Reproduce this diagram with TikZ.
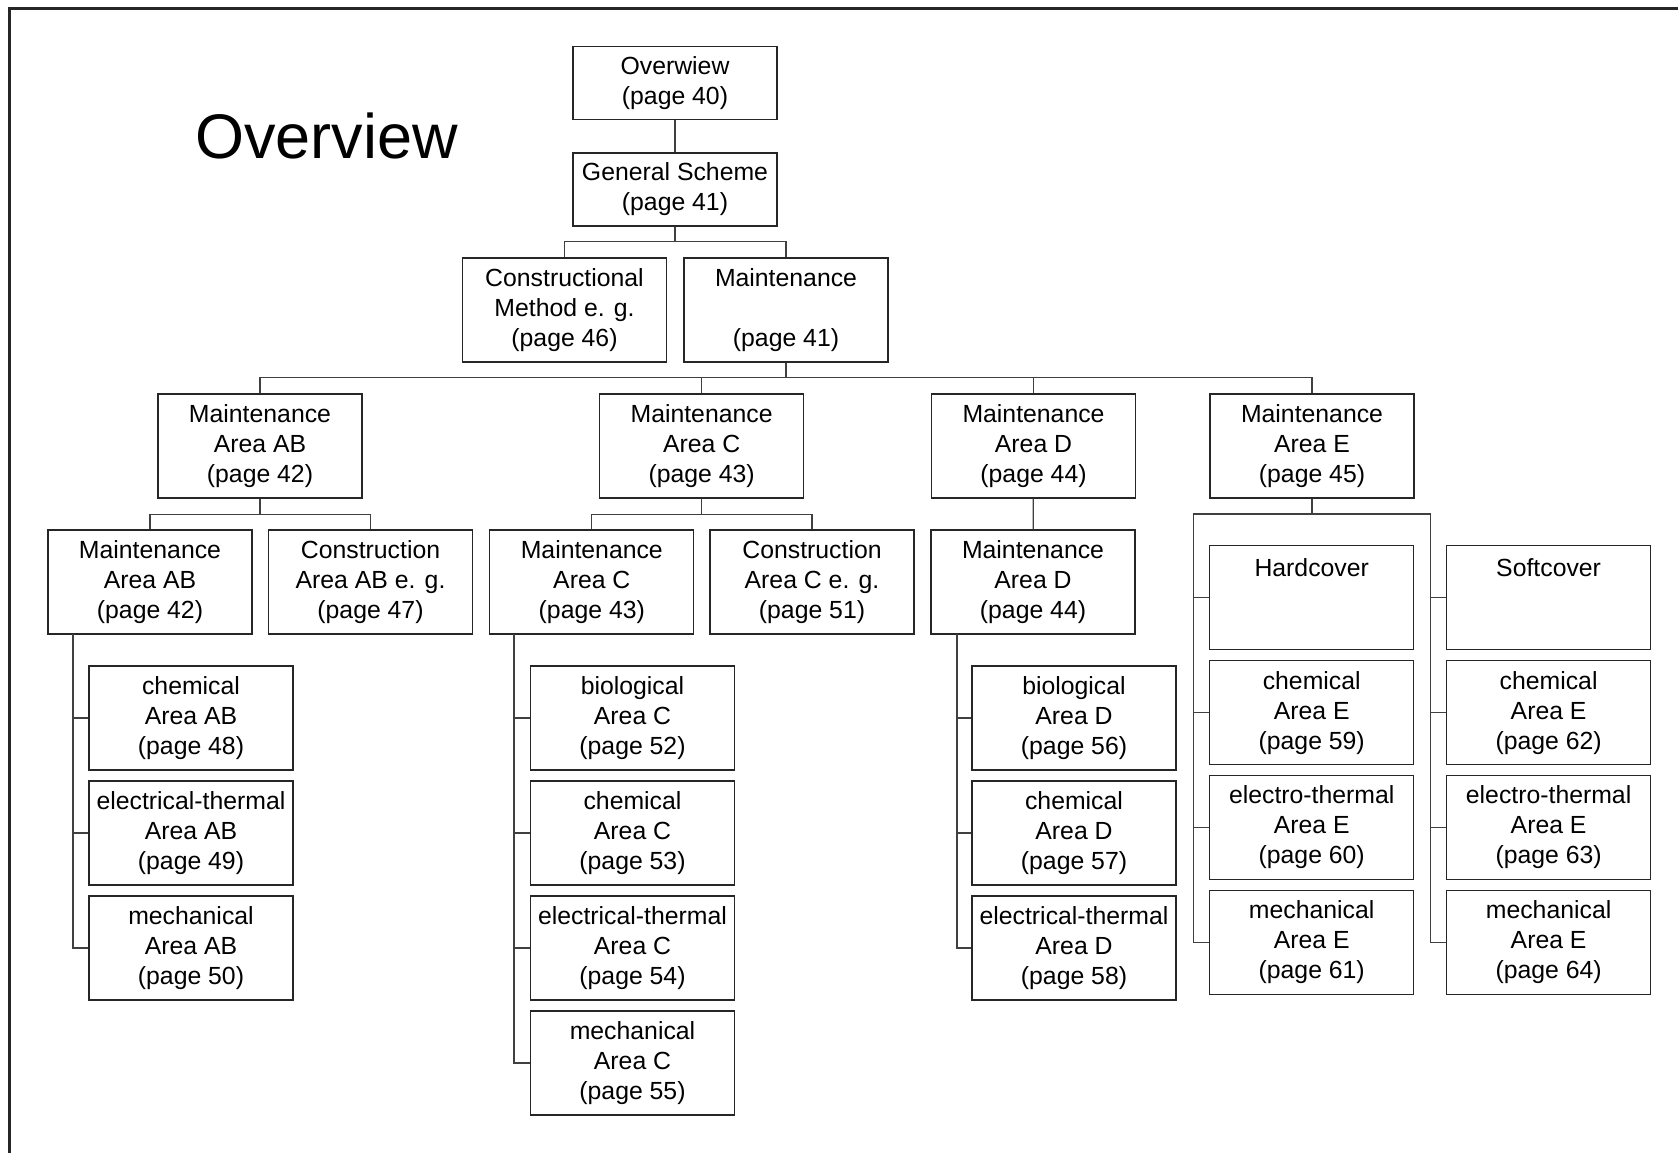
\documentclass[tikz,border=0pt]{standalone}
\usepackage{fontspec}
\setmainfont{Liberation Sans}
\begin{document}
\begin{tikzpicture}[x=1pt,y=-1pt,
  box/.style={draw=black!85, line width=1.2pt, minimum width=204pt,
    minimum height=104pt, inner sep=0pt, align=center,
    font=\fontsize{24.8}{30}\selectfont},
  shortbox/.style={box, minimum height=73pt},
  link/.style={draw=black!75, line width=1.2pt},
  frameline/.style={draw=black!85, line width=2.5pt}]

\useasboundingbox[fill=white] (0,0) rectangle (1678,1153);

% page frame (open to the right and bottom)
\draw[frameline] (9.5,1153) -- (9.5,8.5) -- (1678,8.5);

% title
\node[anchor=base west, inner sep=0pt, font=\fontsize{63}{70}\selectfont] (title) at (195,158) {Overview};

% top of the tree
\node[shortbox] (ov) at (675,83) {Overwiew\\(page 40)};
\node[shortbox] (gs) at (675,189.5) {General Scheme\\(page 41)};
\node[box] (cm) at (564.5,310) {Constructional\\Method e. g.\\(page 46)};
\node[box] (mt) at (786,310) {Maintenance\\\mbox{}\\(page 41)};

% maintenance areas
\node[box] (mab) at (260,446) {Maintenance\\Area AB\\(page 42)};
\node[box] (mc) at (701.6,446) {Maintenance\\Area C\\(page 43)};
\node[box] (md) at (1033.5,446) {Maintenance\\Area D\\(page 44)};
\node[box] (me) at (1312,446) {Maintenance\\Area E\\(page 45)};

% second level of the areas
\node[box] (mabb) at (150,582) {Maintenance\\Area AB\\(page 42)};
\node[box] (cab) at (370.5,582) {Construction\\Area AB e. g.\\(page 47)};
\node[box] (mcc) at (591.8,582) {Maintenance\\Area C\\(page 43)};
\node[box] (cc) at (812,582) {Construction\\Area C e. g.\\(page 51)};
\node[box] (mdd) at (1033,582) {Maintenance\\Area D\\(page 44)};

% area AB list
\node[box] (chab) at (191,718) {chemical\\Area AB\\(page 48)};
\node[box] (elab) at (191,833) {electrical-thermal\\Area AB\\(page 49)};
\node[box] (meab) at (191,948) {mechanical\\Area AB\\(page 50)};

% area C list
\node[box] (bic) at (632.5,718) {biological\\Area C\\(page 52)};
\node[box] (chc) at (632.5,833) {chemical\\Area C\\(page 53)};
\node[box] (elc) at (632.5,948) {electrical-thermal\\Area C\\(page 54)};
\node[box] (mec) at (632.5,1063) {mechanical\\Area C\\(page 55)};

% area D list
\node[box] (bid) at (1074,718) {biological\\Area D\\(page 56)};
\node[box] (chd) at (1074,833) {chemical\\Area D\\(page 57)};
\node[box] (eld) at (1074,948) {electrical-thermal\\Area D\\(page 58)};

% area E: hardcover column
\node[box] (hard) at (1311.7,597.7) {Hardcover\\\mbox{}\\\mbox{}};
\node[box] (che) at (1311.7,712.7) {chemical\\Area E\\(page 59)};
\node[box] (ele) at (1311.7,827.3) {electro-thermal\\Area E\\(page 60)};
\node[box] (mee) at (1311.7,942.5) {mechanical\\Area E\\(page 61)};

% area E: softcover column
\node[box] (soft) at (1548.6,597.7) {Softcover\\\mbox{}\\\mbox{}};
\node[box] (ches) at (1548.6,712.7) {chemical\\Area E\\(page 62)};
\node[box] (eles) at (1548.6,827.3) {electro-thermal\\Area E\\(page 63)};
\node[box] (mees) at (1548.6,942.5) {mechanical\\Area E\\(page 64)};

% bus levels and list spines
\coordinate (busA) at (0,241.7);
\coordinate (busB) at (0,377.7);
\coordinate (busC) at (0,514.3);
\coordinate (busE) at (0,514);
\coordinate (spAB) at (73,634);
\coordinate (spC) at (514,634);
\coordinate (spD) at (957,634);
\coordinate (spEh) at (1193.3,514);
\coordinate (spEs) at (1430.5,514);

% connectors
\draw[link] (ov) -- (gs);
\draw[link] (gs.south) -- (gs.south |- busA);
\draw[link] (cm.north) |- (mt.north |- busA) -- (mt.north);

\draw[link] (mt.south) -- (mt.south |- busB);
\draw[link] (mab.north) |- (me.north |- busB) -- (me.north);
\draw[link] (mc.north) -- (mc.north |- busB);
\draw[link] (md.north) -- (md.north |- busB);

\draw[link] (mab.south) -- (mab.south |- busC);
\draw[link] (mabb.north) |- (cab.north |- busC) -- (cab.north);
\draw[link] (mc.south) -- (mc.south |- busC);
\draw[link] (mcc.north) |- (cc.north |- busC) -- (cc.north);
\draw[link] (md) -- (mdd);

\draw[link] (spAB) |- (meab.west);
\draw[link] (chab.west) -- (chab.west -| spAB);
\draw[link] (elab.west) -- (elab.west -| spAB);

\draw[link] (spC) |- (mec.west);
\draw[link] (bic.west) -- (bic.west -| spC);
\draw[link] (chc.west) -- (chc.west -| spC);
\draw[link] (elc.west) -- (elc.west -| spC);

\draw[link] (spD) |- (eld.west);
\draw[link] (bid.west) -- (bid.west -| spD);
\draw[link] (chd.west) -- (chd.west -| spD);

\draw[link] (me.south) -- (me.south |- busE);
\draw[link] (mee.west) -| (spEh) -- (spEs) |- (mees.west);
\draw[link] (hard.west) -- (hard.west -| spEh);
\draw[link] (che.west) -- (che.west -| spEh);
\draw[link] (ele.west) -- (ele.west -| spEh);
\draw[link] (soft.west) -- (soft.west -| spEs);
\draw[link] (ches.west) -- (ches.west -| spEs);
\draw[link] (eles.west) -- (eles.west -| spEs);
\end{tikzpicture}
\end{document}
